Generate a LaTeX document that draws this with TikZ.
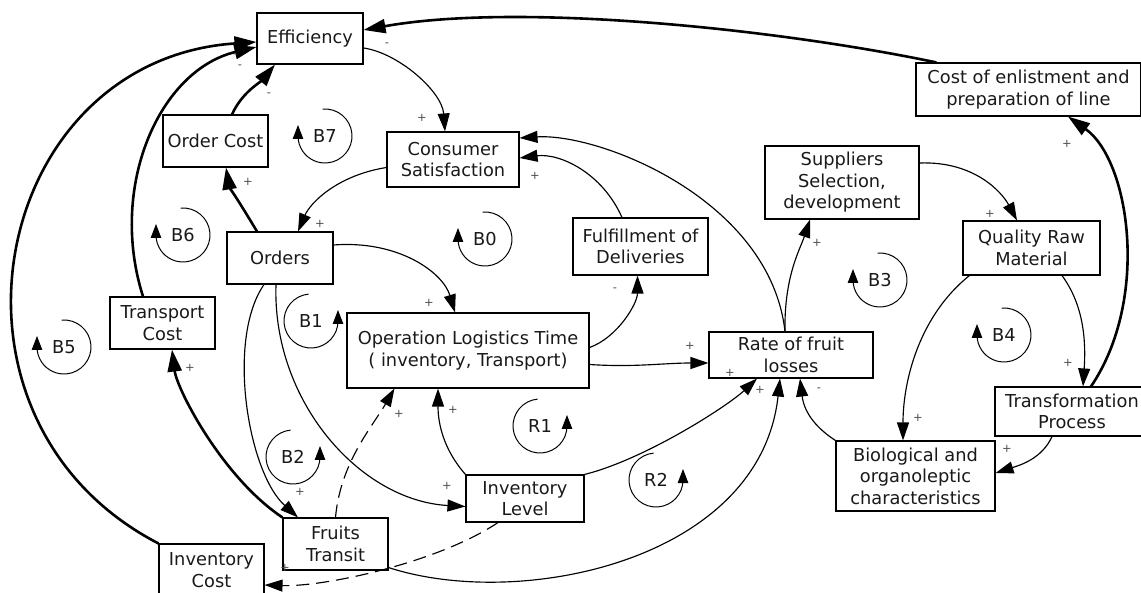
\documentclass[tikz,border=0pt]{standalone}
\usepackage{fontspec}
\setmainfont{DejaVu Sans}
\usetikzlibrary{arrows.meta,calc}
\newcommand\lloop[4]{\begin{scope}[shift={(#2,#3)},x=1pt,y=1pt]
  \draw[loopline] (95:27) arc[start angle=95,end angle=-180,radius=27] -- ++(0,11);
  \node[looplabel] (#1) at (0,0) {#4};\end{scope}}
\newcommand\rloop[4]{\begin{scope}[shift={(#2,#3)},x=1pt,y=1pt]
  \draw[loopline] (95:27) arc[start angle=95,end angle=360,radius=27] -- ++(0,11);
  \node[looplabel] (#1) at (0,0) {#4};\end{scope}}
\begin{document}
\begin{tikzpicture}[x=1pt,y=-1pt,
  box/.style={draw,line width=1.1pt,inner sep=0pt,align=center,font=\fontsize{17.8}{21.5}\selectfont,text=black!90},
  lk/.style={line width=1.15pt,-{Triangle[length=18pt,width=12pt]}},
  lkb/.style={line width=2.6pt,-{Triangle[length=22pt,width=14pt]}},
  dlk/.style={lk,dash pattern=on 13pt off 7pt},
  sg/.style={font=\fontsize{11.5}{13}\selectfont,text=black!70,inner sep=0pt},
  loopline/.style={line width=1pt,-{Triangle[length=14pt,width=10.5pt]}},
  looplabel/.style={font=\fontsize{17.8}{21}\selectfont,inner sep=0pt,text=black!90}
]
\useasboundingbox (0,0) rectangle (1141,593);
% nodes
\node[box,minimum width=106pt,minimum height=51pt] (eff) at (310,38.5) {Efficiency};
\node[box,minimum width=105pt,minimum height=52pt] (ordc) at (215.5,141) {Order Cost};
\node[box,minimum width=132pt,minimum height=55pt] (cs) at (453,159.5) {Consumer\\Satisfaction};
\node[box,minimum width=225pt,minimum height=53pt] (cel) at (1028.5,89.5) {Cost of enlistment and\\preparation of line};
\node[box,minimum width=154pt,minimum height=73pt] (sup) at (842,182.5) {Suppliers\\Selection,\\development};
\node[box,minimum width=137pt,minimum height=54pt] (qrm) at (1031.5,248) {Quality Raw\\Material};
\node[box,minimum width=106pt,minimum height=52pt] (ord) at (280,258) {Orders};
\node[box,minimum width=105pt,minimum height=52pt] (tc) at (162.5,323) {Transport\\Cost};
\node[box,minimum width=242pt,minimum height=75pt] (olt) at (468,350.5) {Operation Logistics Time\\( inventory, Transport)};
\node[box,minimum width=135pt,minimum height=57pt] (ful) at (640.5,246.5) {Fulfillment of\\Deliveries};
\node[box,minimum width=164pt,minimum height=46pt] (rate) at (791,355) {Rate of fruit\\losses};
\node[box,minimum width=154pt,minimum height=49pt] (tp) at (1072,411.5) {Transformation\\Process};
\node[box,minimum width=159pt,minimum height=70pt] (bio) at (915.5,476) {Biological and\\organoleptic\\characteristics};
\node[box,minimum width=118pt,minimum height=47pt] (inv) at (525,498.5) {Inventory\\Level};
\node[box,minimum width=105pt,minimum height=52pt] (ft) at (335.5,544) {Fruits\\Transit};
\node[box,minimum width=105pt,minimum height=52pt] (ic) at (211.5,570) {Inventory\\Cost};
% loops
\lloop{b7}{325}{136}{B7}
\lloop{b6}{183}{235}{B6}
\lloop{b5}{64}{347}{B5}
\lloop{b0}{485}{239}{B0}
\lloop{b3}{880}{280}{B3}
\lloop{b4}{1004}{335}{B4}
\rloop{b1}{311}{321}{B1}
\rloop{b2}{293}{457}{B2}
\rloop{r1}{540}{426}{R1}
\rloop{r2}{656}{480}{R2}
% connectors
\draw[lkb] ($(cel.north west)+(21,0)$) .. controls +(-157,-33) and +(157,-28) .. ($(eff.east)+(0,-8.5)$);
\draw[lk] ($(eff.east)+(0,9.5)$) .. controls +(35,5) and +(-3,-40) .. ($(cs.north)+(-8,0)$);
\draw[lkb] ($(ordc.north)+(16.5,0)$) .. controls +(10,-22) and +(-15,18) .. ($(eff.south)+(-35,0)$);
\draw[lkb] ($(ord.north)+(-23,0)$) .. controls +(-12,-20) and +(3,18) .. ($(ordc.south)+(10.5,0)$);
\draw[lk] ($(cs.west)+(0,8)$) .. controls +(-50,8) and +(12,-28) .. ($(ord.north)+(18,0)$);
\draw[lkb] ($(tc.north)+(-19.5,0)$) .. controls +(-35,-110) and +(-97,23) .. ($(eff.west)+(0,8.5)$);
\draw[lkb] (ic.north west) .. controls +(-239,-124) and +(-267,18) .. ($(eff.west)+(0,3.5)$);
\draw[lkb] (ft.north west) .. controls +(-60,-40) and +(5,40) .. ($(tc.south)+(9.5,0)$);
\draw[lk] ($(ord.south)+(-16,0)$) .. controls +(-38,55) and +(-50,-45) .. ($(ft.north)+(-37.5,0)$);
\draw[lk] ($(ord.south)+(-4,0)$) .. controls +(-4,116) and +(-106,-6) .. ($(inv.west)+(0,8)$);
\draw[lk] ($(ord.east)+(0,-13)$) .. controls +(65,-5) and +(-12,-40) .. ($(olt.north)+(-13,0)$);
\draw[lk] ($(olt.east)+(0,-3)$) .. controls +(28,-10) and +(0,28) .. ($(ful.south)+(-3,0)$);
\draw[lk] ($(ful.north)+(-18.5,0)$) .. controls +(-20,-45) and +(40,-5) .. ($(cs.east)+(0,-1.5)$);
\draw[lk] ($(rate.north)+(-6,0)$) .. controls +(-15,-132) and +(80,-5) .. ($(cs.east)+(0,-21.5)$);
\draw[lk] ($(rate.north)+(-6,0)$) .. controls +(-1,-55) and +(-10,30) .. ($(sup.south)+(-32,0)$);
\draw[lk] ($(sup.east)+(0,-19.5)$) .. controls +(55,-2) and +(-15,-28) .. ($(qrm.north)+(-14.5,0)$);
\draw[lk] ($(qrm.south)+(30.5,0)$) .. controls +(22,30) and +(3,-45) .. ($(tp.north)+(11,0)$);
\draw[lkb] ($(tp.north)+(19,0)$) .. controls +(59,-87) and +(62,44) .. ($(cel.south)+(39.5,0)$);
\draw[lk] ($(qrm.south west)+(7,0)$) .. controls +(-50,40) and +(0,-60) .. ($(bio.north)+(-12.5,0)$);
\draw[lk] ($(tp.south)+(-20,0)$) .. controls +(-10,22) and +(25,-8) .. ($(bio.east)+(0,-3)$);
\draw[lk] (bio.north west) .. controls +(-28,-18) and +(3,25) .. ($(rate.south)+(9,0)$);
\draw[lk] ($(olt.east)+(0,14)$) .. controls +(45,3) and +(-45,0) .. ($(rate.west)+(0,8)$);
\draw[lk] (inv.north east) .. controls +(60,-15) and +(-30,28) .. ($(rate.south)+(-34,0)$);
\draw[lk] ($(ft.south east)+(0,-3)$) .. controls +(132,43) and +(-20,182) .. ($(rate.south)+(-11,0)$);
\draw[lk] (inv.north west) .. controls +(-22,-25) and +(0,35) .. ($(olt.south)+(-30,0)$);
\draw[dlk] (ft.north) .. controls +(5,-55) and +(-22,38) .. ($(olt.south west)+(48,0)$);
\draw[dlk] ($(inv.south)+(-27,0)$) .. controls +(-60,40) and +(60,2) .. ($(ic.east)+(0,15)$);
% signs
\node[sg] (s1) at (387,45) {-};
\node[sg] (s2) at (422,118) {+};
\node[sg] (s3) at (269,95) {-};
\node[sg] (s4) at (248,182) {+};
\node[sg] (s5) at (320,224) {+};
\node[sg] (s6) at (235,56) {-};
\node[sg] (s7) at (240,67) {-};
\node[sg] (s8) at (190,368) {+};
\node[sg] (s9) at (300,492) {+};
\node[sg] (s10) at (447,486) {+};
\node[sg] (s11) at (429,303) {+};
\node[sg] (s12) at (615,290) {-};
\node[sg] (s13) at (535,176) {+};
\node[sg] (s14) at (817,243) {+};
\node[sg] (s15) at (990,214) {+};
\node[sg] (s16) at (1068,363) {+};
\node[sg] (s17) at (1067,144) {+};
\node[sg] (s18) at (918,418) {+};
\node[sg] (s19) at (1007,449) {+};
\node[sg] (s20) at (819,390) {-};
\node[sg] (s21) at (690,346) {+};
\node[sg] (s22) at (730,373) {+};
\node[sg] (s23) at (760,390) {+};
\node[sg] (s24) at (453,410) {+};
\node[sg] (s25) at (399,414) {+};
\node[sg] (s26) at (285,568) {+};
\end{tikzpicture}
\end{document}
